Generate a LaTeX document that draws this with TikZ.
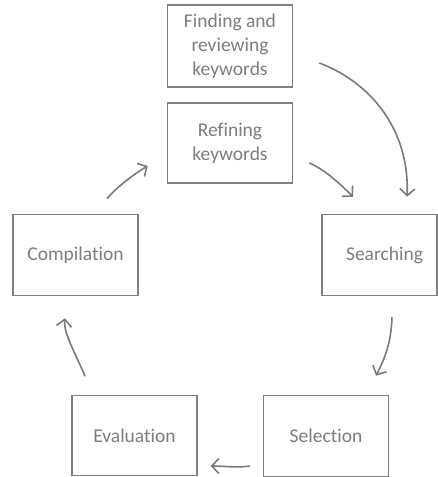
\documentclass[tikz,border=0pt]{standalone}
\usepackage{fontspec}
\setmainfont{Carlito}[Ligatures={NoCommon}]
\usetikzlibrary{arrows.meta,calc}
\definecolor{boxline}{RGB}{128,128,128}
\definecolor{boxtext}{RGB}{125,125,125}
\definecolor{arrowline}{RGB}{122,122,122}
\begin{document}
\begin{tikzpicture}[x=1bp,y=-1bp,
  stage/.style={draw=boxline, line width=1.5bp, fill=white, text=boxtext,
    minimum width=125bp, minimum height=81bp, inner sep=0pt,
    align=center, font=\fontsize{19.5bp}{24bp}\selectfont},
  flow/.style={draw=arrowline, line width=1.6bp,
    -{Straight Barb[length=7bp,width=15bp,line width=1.6bp]}}]
  \useasboundingbox (0,0) rectangle (438,477);
  \clip (0,0) rectangle (438,477);

  % process stages
  \node[stage, minimum height=82bp] (find)    at (230,46)    {Finding and\\reviewing\\keywords};
  \node[stage, minimum height=80bp] (refine)  at (230,143)   {Refining\\keywords};
  \node[stage, minimum width=115bp] (search)  at (379.5,255) {\hspace*{10bp}Searching};
  \node[stage] (compile) at (75.5,255)  {Compilation};
  \node[stage, minimum height=80bp] (eval)    at (134.5,435.5) {Evaluation};
  \node[stage] (select)  at (326,436)   {Selection};

  % cycle connectors
  \draw[flow] ([shift={(26,17)}]find.east)
    .. controls +(51,19) and +(3,-67) .. ([shift={(27.5,-17)}]search.north);
  \draw[flow] ([shift={(16,20)}]refine.east)
    .. controls +(15,6) and +(-12,-12) .. ([shift={(-26.5,-17)}]search.north);
  \draw[flow] ([shift={(12.5,21)}]search.south)
    .. controls +(-1,25) and +(10,-20) .. ([shift={(50,-19)}]select.north);
  \draw[flow] ([shift={(-13,30)}]select.west)
    .. controls +(-12,2) and +(12,0) .. ([shift={(13,30.5)}]eval.east);
  \draw[flow] ([shift={(-49.5,-18.5)}]eval.north)
    .. controls +(-8,-20) and +(-2,15) .. ([shift={(-10.5,22)}]compile.south);
  \draw[flow] ([shift={(31.5,-15)}]compile.north)
    .. controls +(8,-10) and +(-14,8) .. ([shift={(-19,23)}]refine.west);
\end{tikzpicture}
\end{document}
